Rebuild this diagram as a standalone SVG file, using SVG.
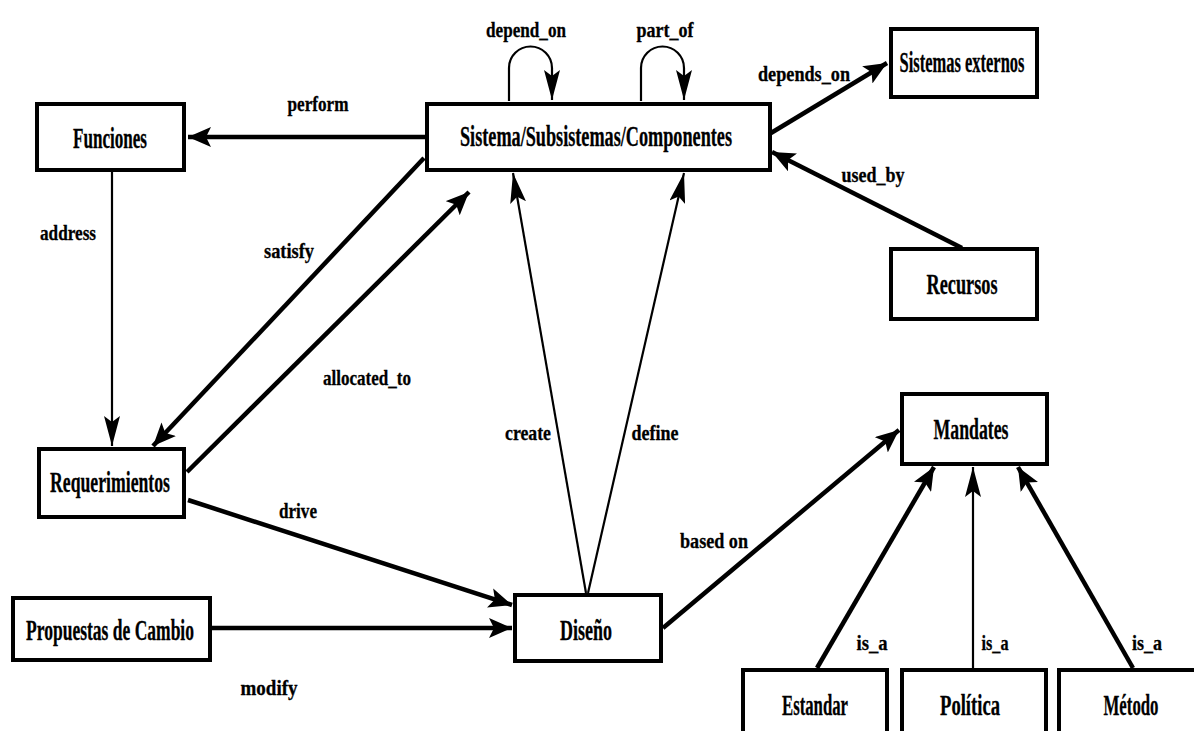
<svg xmlns="http://www.w3.org/2000/svg" width="1194" height="731" viewBox="0 0 1194 731">
<style>
.box{fill:#fff;stroke:#000;stroke-width:4}
.nt{font-family:"Liberation Serif","Times New Roman",serif;font-weight:bold;font-size:29px;text-anchor:middle;fill:#000;stroke:#000;stroke-width:0.3}
.lt{font-family:"Liberation Serif","Times New Roman",serif;font-weight:bold;font-size:21px;text-anchor:middle;fill:#000;stroke:#000;stroke-width:0.3}
.e{fill:none;stroke:#000}
.thick{stroke-width:4.5;marker-end:url(#ahk)}
.thin{stroke-width:2.2;marker-end:url(#ahn)}
</style>
<defs>
<marker id="ahk" markerUnits="userSpaceOnUse" markerWidth="24" markerHeight="20" refX="23" refY="10" orient="auto">
<path d="M0,0 L23,10 L0,20 L5,10 z" fill="#000"/>
</marker>
<marker id="ahn" markerUnits="userSpaceOnUse" markerWidth="31" markerHeight="16" refX="30" refY="8" orient="auto">
<path d="M0,0 L30,8 L0,16 L6,8 z" fill="#000"/>
</marker>
</defs>
<rect width="1194" height="731" fill="#fff"/>
<g id="connectors">
<path class="e thick" d="M425,137 L188,137"/>
<path class="e thin" d="M509,101 L509,68 A21.5,21.5 0 0 1 552,68 L552,100"/>
<path class="e thin" d="M641,101 L641,68 A21.5,21.5 0 0 1 684,68 L684,100"/>
<path class="e thick" d="M771,133 L887,63"/>
<path class="e thick" d="M962,248 L772,152"/>
<path class="e thin" d="M112,172 L112,446"/>
<path class="e thick" d="M424,158 L153,446"/>
<path class="e thick" d="M187,472 L469,192"/>
<path class="e thin" d="M586,593 L513,173"/>
<path class="e thin" d="M588,593 L684,173"/>
<path class="e thick" d="M188,500 L512,605"/>
<path class="e thick" d="M212,628 L512,628"/>
<path class="e thick" d="M663,628 L899,430"/>
<path class="e thick" d="M817,668 L934,467"/>
<path class="e thin" d="M973,668 L973,467"/>
<path class="e thick" d="M1133,668 L1018,467"/>
<text class="lt" x="318" y="111" textLength="61" lengthAdjust="spacingAndGlyphs">perform</text>
<text class="lt" x="526" y="37" textLength="80" lengthAdjust="spacingAndGlyphs">depend_on</text>
<text class="lt" x="665" y="37" textLength="57" lengthAdjust="spacingAndGlyphs">part_of</text>
<text class="lt" x="804" y="81" textLength="92" lengthAdjust="spacingAndGlyphs">depends_on</text>
<text class="lt" x="873" y="182" textLength="63" lengthAdjust="spacingAndGlyphs">used_by</text>
<text class="lt" x="68" y="240" textLength="56" lengthAdjust="spacingAndGlyphs">address</text>
<text class="lt" x="289" y="258" textLength="50" lengthAdjust="spacingAndGlyphs">satisfy</text>
<text class="lt" x="367" y="385" textLength="88" lengthAdjust="spacingAndGlyphs">allocated_to</text>
<text class="lt" x="528" y="440" textLength="46" lengthAdjust="spacingAndGlyphs">create</text>
<text class="lt" x="655" y="440" textLength="47" lengthAdjust="spacingAndGlyphs">define</text>
<text class="lt" x="298" y="518" textLength="38" lengthAdjust="spacingAndGlyphs">drive</text>
<text class="lt" x="269" y="695" textLength="57" lengthAdjust="spacingAndGlyphs">modify</text>
<text class="lt" x="714" y="548" textLength="68" lengthAdjust="spacingAndGlyphs">based on</text>
<text class="lt" x="872" y="650" textLength="31" lengthAdjust="spacingAndGlyphs">is_a</text>
<text class="lt" x="995" y="650" textLength="27" lengthAdjust="spacingAndGlyphs">is_a</text>
<text class="lt" x="1147" y="650" textLength="30" lengthAdjust="spacingAndGlyphs">is_a</text>
</g>
<g id="funciones"><rect class="box" x="37" y="104" width="147" height="66"/><text class="nt" x="110" y="148" textLength="74" lengthAdjust="spacingAndGlyphs">Funciones</text></g>
<g id="sistema"><rect class="box" x="427" y="104" width="343" height="66"/><text class="nt" x="596" y="146" textLength="272" lengthAdjust="spacingAndGlyphs">Sistema/Subsistemas/Componentes</text></g>
<g id="externos"><rect class="box" x="891" y="29" width="146" height="68"/><text class="nt" x="962" y="72" textLength="125" lengthAdjust="spacingAndGlyphs">Sistemas externos</text></g>
<g id="recursos"><rect class="box" x="891" y="249" width="146" height="70"/><text class="nt" x="962" y="294" textLength="71" lengthAdjust="spacingAndGlyphs">Recursos</text></g>
<g id="mandates"><rect class="box" x="902" y="394" width="145" height="70"/><text class="nt" x="971" y="439" textLength="75" lengthAdjust="spacingAndGlyphs">Mandates</text></g>
<g id="requerimientos"><rect class="box" x="39" y="449" width="145" height="68"/><text class="nt" x="110" y="492" textLength="120" lengthAdjust="spacingAndGlyphs">Requerimientos</text></g>
<g id="propuestas"><rect class="box" x="13" y="598" width="197" height="62"/><text class="nt" x="110" y="640" textLength="168" lengthAdjust="spacingAndGlyphs">Propuestas de Cambio</text></g>
<g id="diseno"><rect class="box" x="515" y="595" width="146" height="66"/><text class="nt" x="586" y="640" textLength="52" lengthAdjust="spacingAndGlyphs">Diseño</text></g>
<g id="estandar"><path class="box" d="M743,731 L743,670 L887,670 L887,731"/><text class="nt" x="815" y="715" textLength="66" lengthAdjust="spacingAndGlyphs">Estandar</text></g>
<g id="politica"><path class="box" d="M902,731 L902,670 L1046,670 L1046,731"/><text class="nt" x="970" y="715" textLength="60" lengthAdjust="spacingAndGlyphs">Política</text></g>
<g id="metodo"><path class="box" d="M1059,731 L1059,670 L1194,670"/><text class="nt" x="1131" y="715" textLength="55" lengthAdjust="spacingAndGlyphs">Método</text></g>
</svg>
